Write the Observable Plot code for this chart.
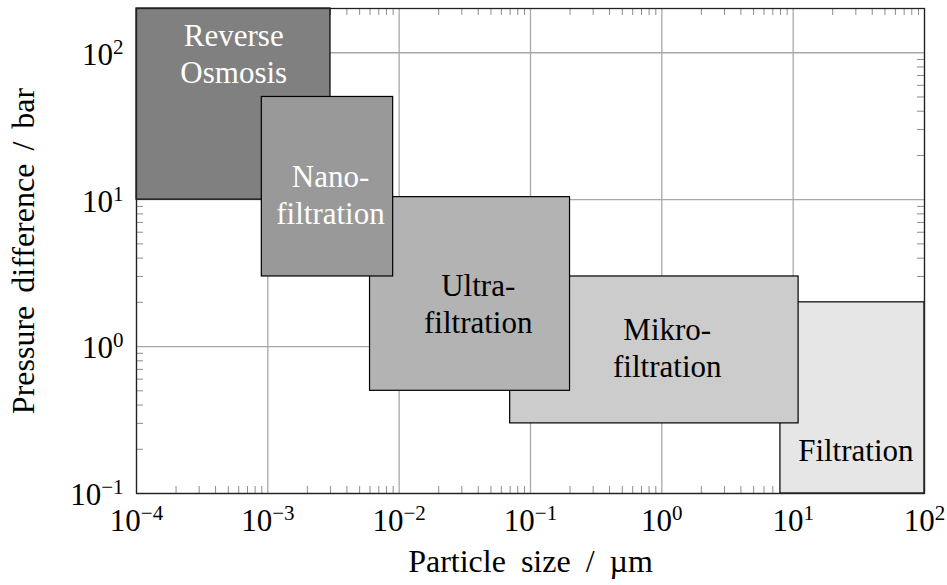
<!DOCTYPE html>
<html>
<head>
<meta charset="utf-8">
<script src="https://cdn.jsdelivr.net/npm/d3@7"></script>
<script src="https://cdn.jsdelivr.net/npm/@observablehq/plot@0.6"></script>
<style>
  body { margin: 0; background: #fff; }
  #chart svg, #chart svg text, #chart svg tspan {
    font-family: "Liberation Serif", "DejaVu Serif", serif !important;
  }
</style>
</head>
<body>
<div id="chart"></div>
<script>
// Membrane separation processes: particle size range (µm) vs. pressure difference (bar)
const processes = ["Reverse Osmosis", "Nanofiltration", "Ultrafiltration", "Mikrofiltration", "Filtration"];
const boxLabels = ["Reverse\nOsmosis", "Nano-\nfiltration", "Ultra-\nfiltration", "Mikro-\nfiltration", "Filtration"];
const sizeMin = [1e-4, 9e-4, 6e-3, 0.07, 8];
const sizeMax = [3e-3, 9e-3, 0.2, 11, 100];
const pressureMin = [10, 3, 0.5, 0.3, 0.1];
const pressureMax = [200, 50, 10.4, 3, 2];
// where each box caption sits, in data units
const labelSize = [5.5e-4, 3e-3, 0.04, 1.1, 30];
const labelPressure = [100, 11, 2, 1, 0.2];

const xTicks = [1e-4, 1e-3, 1e-2, 1e-1, 1, 10, 100];
const yTicks = [0.1, 1, 10, 100];
const xDomain = [1e-4, 100];
const yDomain = [0.1, 200];

const xLabel = "Particle size / µm";
const yLabel = "Pressure difference / bar";

// boxes painted back to front so overlaps stack correctly
const drawOrder = [0, 4, 3, 2, 1];
const shades = ["#808080", "#999999", "#b3b3b3", "#cccccc", "#e6e6e6"];
const captionInk = ["white", "white", "black", "black", "black"];

const rows = processes.map((name, i) => ({
  name, label: boxLabels[i],
  x1: sizeMin[i], x2: sizeMax[i], y1: pressureMin[i], y2: pressureMax[i],
  lx: labelSize[i], ly: labelPressure[i], ink: captionInk[i]
}));
const boxes = drawOrder.map(i => rows[i]);

// minor ticks 2..9 inside each decade
const minors = (decades, max) => decades.slice(0, -1)
  .flatMap(d => d3.range(2, 10).map(k => k * d))
  .filter(v => v < max);
const minorX = minors(xTicks, xDomain[1]);
const minorY = minors(yTicks.concat([1000]), yDomain[1]);

const W = 947, H = 585;
const mL = 136, mR = 23, mT = 8, mB = 92;
const plotW = W - mL - mR, plotH = H - mT - mB;
const tickLen = 7;

const fmt = d => "10^" + String(Math.round(Math.log10(d))).replace("-", "\u2212");
const font = "Liberation Serif";

const chart = Plot.plot({
  width: W, height: H,
  marginLeft: mL, marginRight: mR, marginTop: mT, marginBottom: mB,
  style: { fontFamily: font, fontSize: "31px", background: "white", color: "black" },
  x: { type: "log", domain: xDomain },
  y: { type: "log", domain: yDomain },
  color: { domain: processes, range: shades },
  marks: [
    Plot.gridX(xTicks, { stroke: "#a8a8a8", strokeOpacity: 1, strokeWidth: 1.3 }),
    Plot.gridY(yTicks, { stroke: "#a8a8a8", strokeOpacity: 1, strokeWidth: 1.3 }),
    // inward minor ticks on all four sides
    Plot.ruleX(minorX, { x: d => d, insetTop: plotH - tickLen, stroke: "#8c8c8c", strokeWidth: 1 }),
    Plot.ruleX(minorX, { x: d => d, insetBottom: plotH - tickLen, stroke: "#8c8c8c", strokeWidth: 1 }),
    Plot.ruleY(minorY, { y: d => d, insetRight: plotW - tickLen, stroke: "#8c8c8c", strokeWidth: 1 }),
    Plot.ruleY(minorY, { y: d => d, insetLeft: plotW - tickLen, stroke: "#8c8c8c", strokeWidth: 1 }),
    Plot.rect(boxes, { x1: "x1", x2: "x2", y1: "y1", y2: "y2", fill: "name", stroke: "black", strokeWidth: 1.2 }),
    Plot.text(rows, { x: "lx", y: "ly", text: "label", fill: "ink", fontSize: 31, fontFamily: font, lineHeight: 1.2 }),
    Plot.frame({ stroke: "#222", strokeWidth: 1.3 }),
    Plot.axisX({ ticks: xTicks, tickSize: 0, tickPadding: 15, tickFormat: fmt, label: null, fontSize: 31, fontFamily: font }),
    Plot.axisY({ ticks: yTicks, tickSize: 0, tickPadding: 13, tickFormat: fmt, label: null, fontSize: 31, fontFamily: font, dy: 2 }),
    Plot.text([xLabel], { text: d => d, frameAnchor: "bottom", textAnchor: "middle", lineAnchor: "middle", dy: 68, fontSize: 32, fontFamily: font }),
    Plot.text([yLabel], { text: d => d, frameAnchor: "left", textAnchor: "middle", lineAnchor: "middle", rotate: -90, dx: -113, fontSize: 32, fontFamily: font })
  ]
});

// turn "10^n" tick labels into a base with a raised exponent
const ns = "http://www.w3.org/2000/svg";
chart.querySelectorAll('g[aria-label$="tick label"] text').forEach(t => {
  const parts = t.textContent.split("^");
  if (parts.length !== 2) return;
  t.textContent = "";
  const base = document.createElementNS(ns, "tspan");
  base.textContent = parts[0];
  const exp = document.createElementNS(ns, "tspan");
  exp.textContent = parts[1];
  exp.setAttribute("font-size", "21");
  exp.setAttribute("dy", "-11");
  t.append(base, exp);
});

// wider gaps around the slash in the axis titles
chart.querySelectorAll("text").forEach(t => {
  if (t.textContent === xLabel) t.style.wordSpacing = "7px";
  if (t.textContent === yLabel) t.style.wordSpacing = "5px";
});

document.getElementById("chart").append(chart);
</script>
</body>
</html>
